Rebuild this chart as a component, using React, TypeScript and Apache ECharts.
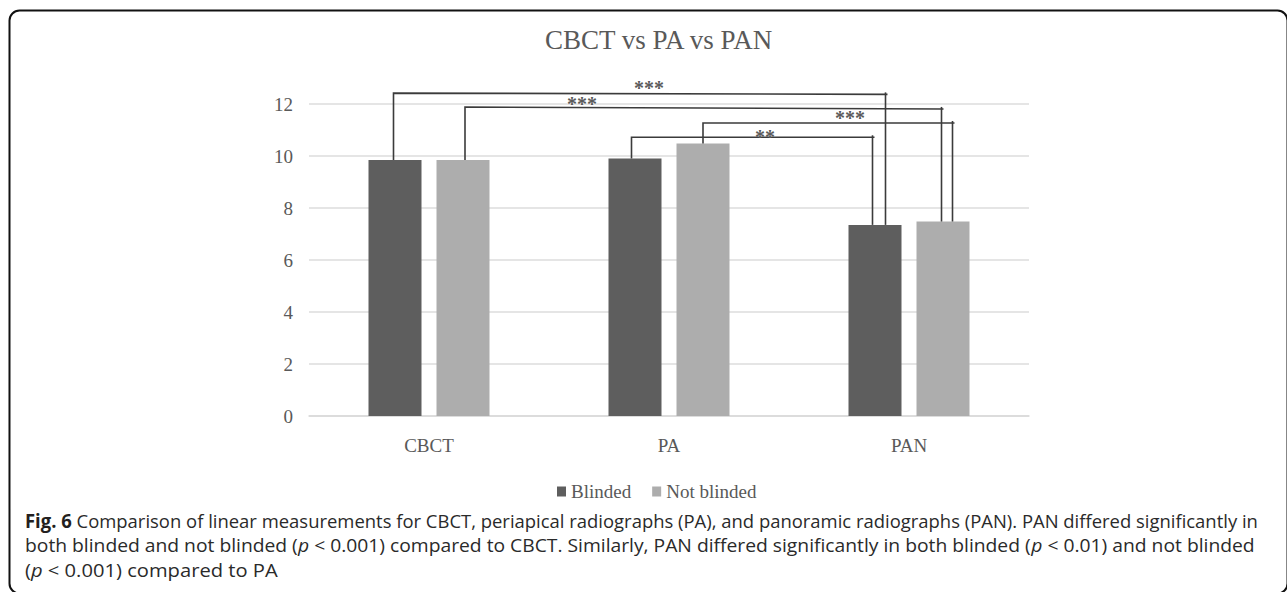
import React, { useEffect, useRef } from 'react';
import * as echarts from 'echarts';

// ---- data ----
const categories = ['CBCT', 'PA', 'PAN'];
const seriesNames = ['Blinded', 'Not blinded'];
const blinded = [9.85, 9.9, 7.35];
const notBlinded = [9.85, 10.48, 7.48];
const yMin = 0;
const yMax = 12;
const yInterval = 2;
const titleText = 'CBCT vs PA vs PAN';

// significance brackets: [category, series] -> [category, series]
const bracketFrom = [[0, 0], [0, 1], [1, 1], [1, 0]];
const bracketTo = [[2, 0], [2, 1], [2, 1], [2, 0]];
const bracketLevelStart = [12.42, 11.88, 11.27, 10.72];
const bracketLevelEnd = [12.37, 11.81, 11.27, 10.72];
const bracketLabels = ['***', '***', '***', '**'];
const bracketLabelCat = [0.917, 0.6375, 1.754, 1.4];
const bracketLabelLevel = [12.62, 12.01, 11.47, 10.74];

// caption
const captionLines = [
  [['b', 'Fig. 6'], ['r', ' Comparison of linear measurements for CBCT, periapical radiographs (PA), and panoramic radiographs (PAN). PAN differed significantly in']],
  [['r', 'both blinded and not blinded ('], ['i', 'p'], ['r', ' < 0.001) compared to CBCT. Similarly, PAN differed significantly in both blinded ('], ['i', 'p'], ['r', ' < 0.01) and not blinded']],
  [['r', '('], ['i', 'p'], ['r', ' < 0.001) compared to PA']],
];

// ---- layout / style ----
const BAR_W = 53;
const BAR_GAP = 15;
const legOffsetStart = [-1.5, 2, 0, -3.5];
const legOffsetEnd = [10.5, -1.5, 9.5, -2.5];
const captionX = 25;
const captionY = [520, 545, 570];
const captionEnd = [1258, 1255, 278];
const SERIF = "'Liberation Serif', 'Times New Roman', serif";
const SANS = "'Open Sans', 'Noto Sans', sans-serif";
const CAP_SIZE = 19;

function measure(parts: string[][]): number {
  const c = document.createElement('canvas').getContext('2d');
  if (!c) return 1;
  let w = 0;
  for (const [k, t] of parts) {
    const weight = k === 'b' ? 'bold ' : '';
    const style = k === 'i' ? 'italic ' : '';
    c.font = `${style}${weight}${CAP_SIZE}px 'Open Sans'`;
    w += c.measureText(t).width;
  }
  return w;
}

export default function App() {
  const ref = useRef<HTMLDivElement>(null);
  useEffect(() => {
    document.body.style.margin = '0';
    if (!ref.current) return;
    const chart = echarts.init(ref.current, null, { renderer: 'svg' });
    const vals = [blinded, notBlinded];
    const half = (BAR_W + BAR_GAP) / 2;
    const lineStyle = { stroke: '#3b3b3b', lineWidth: 1.6, fill: 'none' };

    const captionGraphics = captionLines.map((parts, i) => {
      const w = measure(parts);
      const s = (captionEnd[i] - captionX) / w;
      return {
        type: 'text',
        x: captionX,
        y: captionY[i],
        scaleX: s,
        style: {
          text: parts.map(([k, t]) => `{${k}|${t}}`).join(''),
          fill: '#231f20',
          verticalAlign: 'middle',
          align: 'left',
          rich: {
            r: { fontFamily: SANS, fontSize: CAP_SIZE, fill: '#2a2a2a' },
            b: { fontFamily: SANS, fontSize: CAP_SIZE, fontWeight: 'bold', fill: '#231f20' },
            i: { fontFamily: SANS, fontSize: CAP_SIZE, fontStyle: 'italic', fill: '#2a2a2a' },
          },
        },
      };
    });

    chart.setOption({
      animation: false,
      title: {
        text: titleText,
        left: 540,
        top: 21,
        textStyle: { fontFamily: SERIF, fontSize: 27, fontWeight: 'normal', color: '#595959' },
      },
      legend: {
        data: seriesNames,
        left: 552,
        top: 477,
        icon: 'rect',
        itemWidth: 9,
        itemHeight: 10,
        itemGap: 21,
        textStyle: { fontFamily: SERIF, fontSize: 19, color: '#595959' },
      },
      grid: { left: 309, right: 258, top: 104, bottom: 176, containLabel: false },
      xAxis: {
        type: 'category',
        data: categories,
        axisLine: { lineStyle: { color: '#d9d9d9', width: 1.5 } },
        axisTick: { show: false },
        axisLabel: { fontFamily: SERIF, fontSize: 19, color: '#595959', margin: 20 },
      },
      yAxis: {
        type: 'value',
        min: yMin,
        max: yMax,
        interval: yInterval,
        axisLine: { show: false },
        axisTick: { show: false },
        axisLabel: { fontFamily: SERIF, fontSize: 19, color: '#595959', margin: 16 },
        splitLine: { lineStyle: { color: '#dcdcdc', width: 1.5 } },
      },
      series: [
        {
          name: seriesNames[0],
          type: 'bar',
          data: blinded,
          barWidth: BAR_W,
          barGap: `${(BAR_GAP / BAR_W) * 100}%`,
          itemStyle: { color: '#5e5e5e' },
        },
        {
          name: seriesNames[1],
          type: 'bar',
          data: notBlinded,
          barWidth: BAR_W,
          itemStyle: { color: '#adadad' },
        },
        {
          type: 'custom',
          z: 5,
          clip: false,
          data: bracketFrom.map((f, i) => [f[0], bracketLevelStart[i]]),
          renderItem: (params: any, api: any) => {
            const i = params.dataIndex;
            const [fc, fs] = bracketFrom[i];
            const [tc, ts] = bracketTo[i];
            const x1 = api.coord([fc, 0])[0] + (fs === 0 ? -half : half) + legOffsetStart[i];
            const y1b = api.coord([fc, vals[fs][fc]])[1];
            const y1t = api.coord([fc, bracketLevelStart[i]])[1];
            const x2 = api.coord([tc, 0])[0] + (ts === 0 ? -half : half) + legOffsetEnd[i];
            const y2b = api.coord([tc, vals[ts][tc]])[1];
            const y2t = api.coord([tc, bracketLevelEnd[i]])[1];
            const c0 = api.coord([0, 0])[0];
            const c1 = api.coord([1, 0])[0];
            const lx = c0 + (c1 - c0) * bracketLabelCat[i];
            const ly = api.coord([0, bracketLabelLevel[i]])[1];
            return {
              type: 'group',
              children: [
                { type: 'polyline', shape: { points: [[x1, y1b], [x1, y1t], [x2 + 2, y2t]] }, style: lineStyle },
                { type: 'line', shape: { x1: x2, y1: y2t - 2, x2: x2, y2: y2b }, style: lineStyle },
                {
                  type: 'text',
                  x: lx,
                  y: ly,
                  style: {
                    text: bracketLabels[i],
                    fontFamily: SERIF,
                    fontSize: 20,
                    fontWeight: 'bold',
                    fill: '#5a5a5a',
                    align: 'center',
                    verticalAlign: 'middle',
                  },
                },
              ],
            };
          },
        },
      ],
      graphic: [
        {
          type: 'rect',
          shape: { x: 9.5, y: 10.5, width: 1278, height: 583, r: 10 },
          style: { fill: 'none', stroke: '#111111', lineWidth: 2 },
          silent: true,
        },
        ...captionGraphics,
      ],
    });
    return () => chart.dispose();
  }, []);
  return <div ref={ref} style={{ width: 1287, height: 592 }} />;
}
